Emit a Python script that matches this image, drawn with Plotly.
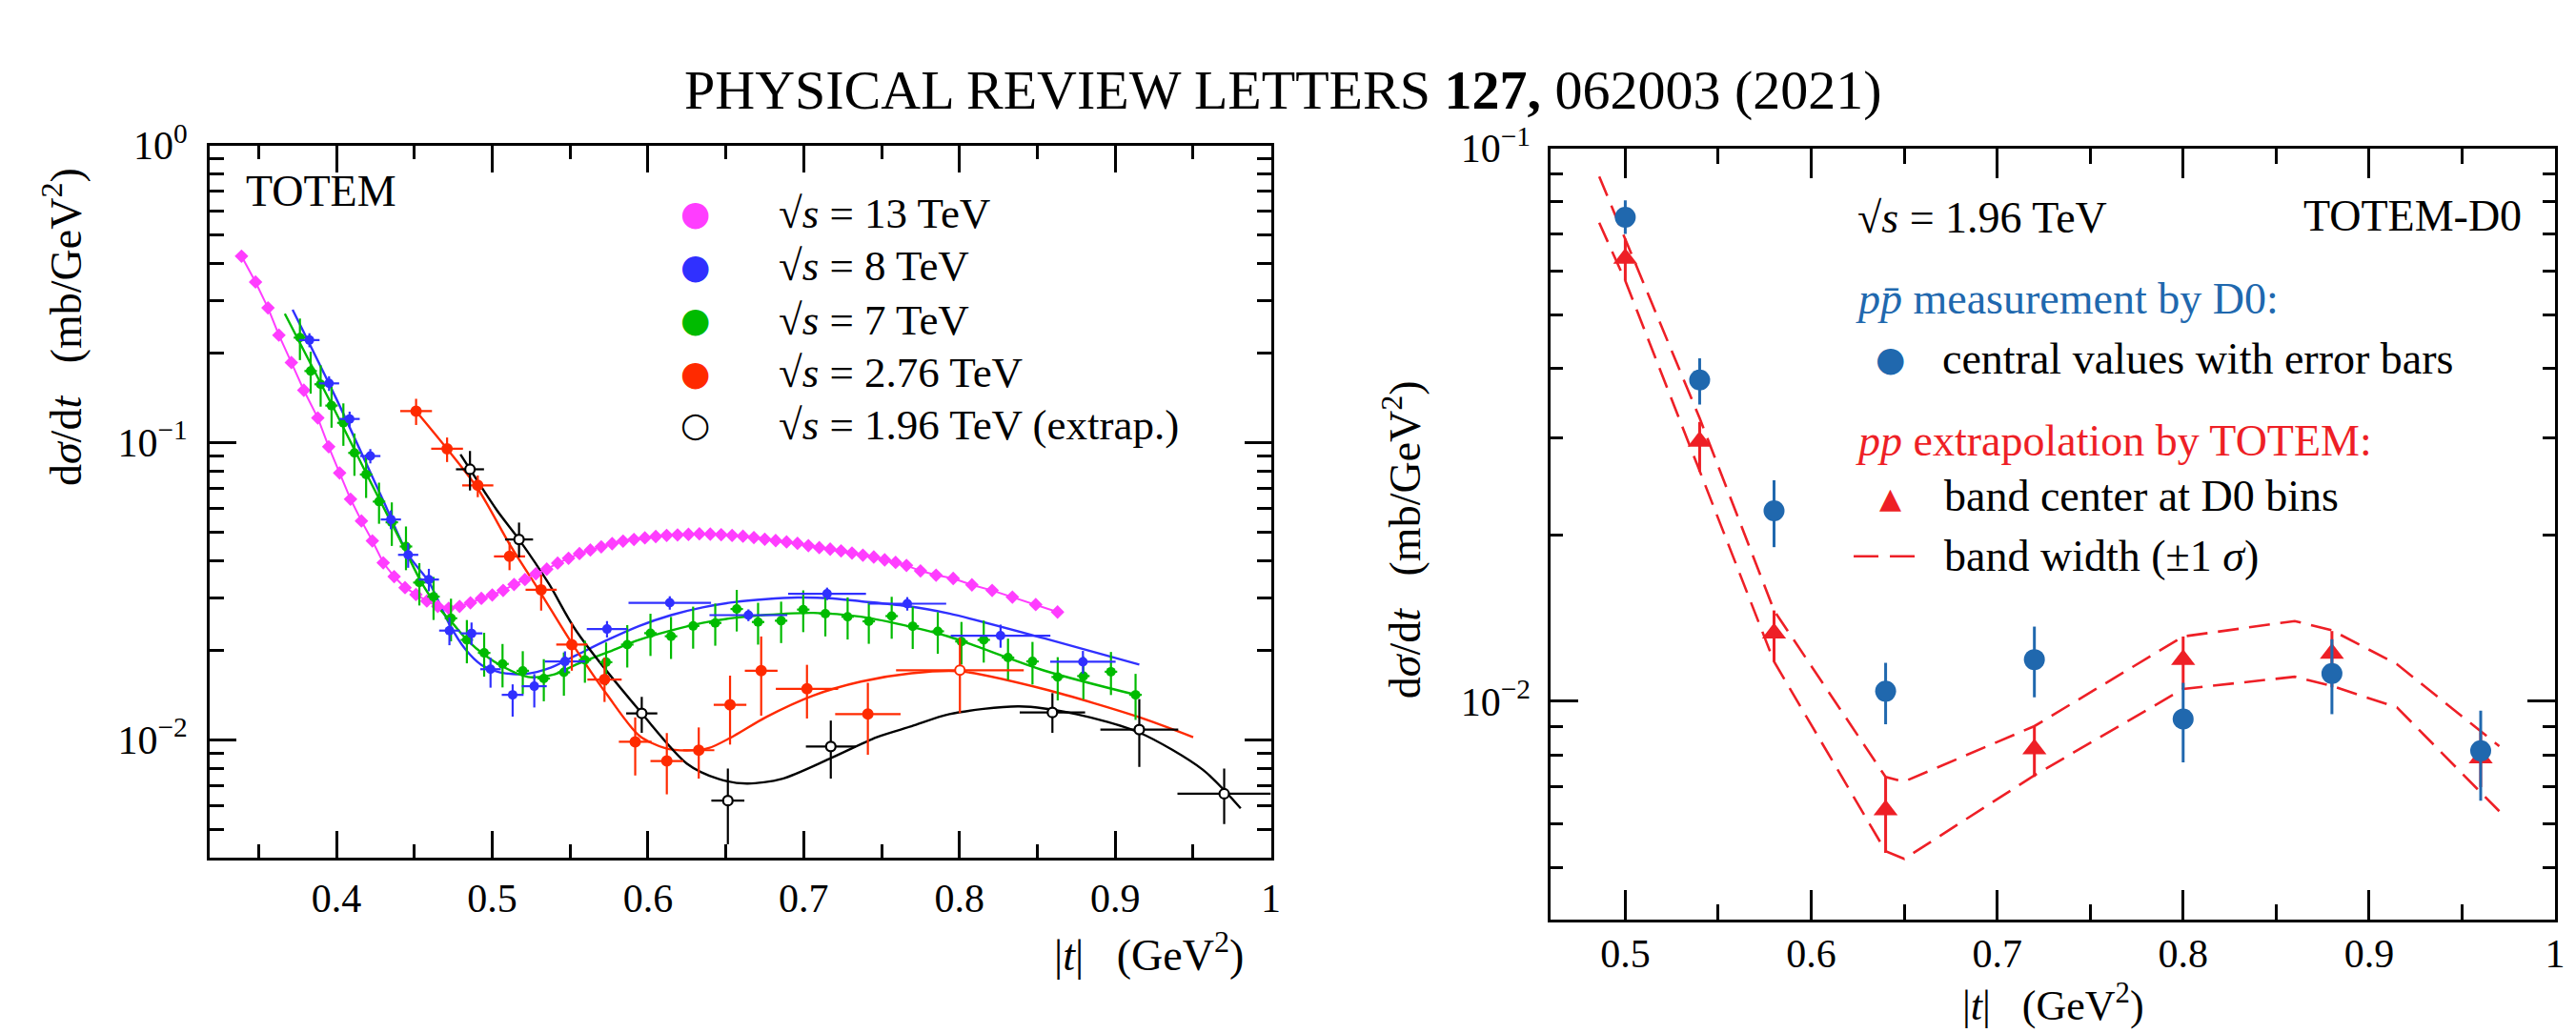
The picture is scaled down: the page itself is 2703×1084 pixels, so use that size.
import plotly.graph_objects as go

W, H = 2703, 1084
SERIF = "Liberation Serif"

# ---------------- LEFT PANEL DATA (TOTEM) ----------------
t_13 = [0.339, 0.348, 0.356, 0.363, 0.371, 0.379, 0.388, 0.395, 0.402, 0.409, 0.416, 0.423, 0.430, 0.437,
        0.444, 0.451, 0.458, 0.465, 0.472, 0.479, 0.486, 0.493, 0.500, 0.507, 0.514, 0.521, 0.528, 0.535,
        0.542, 0.549, 0.556, 0.563, 0.570, 0.577, 0.584, 0.591, 0.598, 0.605, 0.612, 0.619, 0.626, 0.633,
        0.640, 0.647, 0.654, 0.661, 0.668, 0.675, 0.682, 0.689, 0.696, 0.703, 0.710, 0.717, 0.724, 0.731,
        0.738, 0.745, 0.752, 0.759, 0.766, 0.775, 0.785, 0.796, 0.808, 0.821, 0.834, 0.849, 0.863]
v_13 = [0.424, 0.347, 0.284, 0.230, 0.186, 0.150, 0.121, 0.0968, 0.0790, 0.0645, 0.0545, 0.0467, 0.0394, 0.0354,
        0.0325, 0.0308, 0.0293, 0.0281, 0.0277, 0.0281, 0.0289, 0.0299, 0.0307, 0.0318, 0.0333, 0.0346, 0.0362, 0.0375,
        0.0393, 0.0408, 0.0423, 0.0435, 0.0446, 0.0457, 0.0466, 0.0472, 0.0478, 0.0483, 0.0487, 0.0489, 0.0491, 0.0493,
        0.0492, 0.0490, 0.0487, 0.0484, 0.0479, 0.0473, 0.0468, 0.0463, 0.0458, 0.0450, 0.0443, 0.0438, 0.0432, 0.0425,
        0.0418, 0.0412, 0.0403, 0.0395, 0.0386, 0.0370, 0.0358, 0.0349, 0.0332, 0.0318, 0.0302, 0.0285, 0.0269]

t_8 = [0.3826, 0.3952, 0.4084, 0.4217, 0.4349, 0.4460, 0.4593, 0.4725, 0.4867, 0.4989, 0.5131, 0.5270,
       0.5467, 0.5737, 0.6140, 0.6645, 0.7150, 0.7665, 0.8264, 0.8793]
v_8 = [0.2213, 0.1582, 0.1201, 0.0901, 0.0551, 0.0419, 0.0346, 0.0233, 0.0228, 0.01727, 0.01416, 0.01514,
       0.01834, 0.02358, 0.0289, 0.02626, 0.0310, 0.0287, 0.0224, 0.0183]
eu_8 = [0.012, 0.009, 0.007, 0.005, 0.004, 0.004, 0.003, 0.0025, 0.002, 0.0016, 0.0012, 0.0015,
        0.0015, 0.0015, 0.0015, 0.0012, 0.0015, 0.0015, 0.0020, 0.0016]
ed_8 = [0.012, 0.009, 0.007, 0.005, 0.004, 0.004, 0.003, 0.0025, 0.002, 0.0023, 0.0022, 0.0023,
        0.0015, 0.0015, 0.0015, 0.0012, 0.0015, 0.0015, 0.0020, 0.0016]
ex_8 = [0.0065, 0.0065, 0.0065, 0.0065, 0.0065, 0.0065, 0.0065, 0.0066, 0.007, 0.0066, 0.007, 0.008,
        0.013, 0.013, 0.0265, 0.025, 0.025, 0.025, 0.032, 0.021]

t_7 = [0.3765, 0.3834, 0.3898, 0.3968, 0.4044, 0.4115, 0.4190, 0.4273, 0.4355, 0.4446, 0.4532, 0.4623,
       0.4735, 0.4837, 0.4948, 0.5066, 0.5196, 0.5331, 0.5460, 0.5595, 0.5731, 0.5867, 0.6016, 0.6148,
       0.6290, 0.6432, 0.6570, 0.6707, 0.6855, 0.6997, 0.7139, 0.7282, 0.7418, 0.7565, 0.7700, 0.7861,
       0.8013, 0.8156, 0.8312, 0.8469, 0.8631, 0.8796, 0.8973, 0.9131]
v_7 = [0.2255, 0.1741, 0.1571, 0.1332, 0.1165, 0.0923, 0.0781, 0.0633, 0.0539, 0.0447, 0.0338, 0.0303,
       0.02563, 0.02168, 0.0196, 0.0180, 0.01706, 0.01607, 0.01686, 0.01855, 0.01824, 0.0209, 0.02284, 0.0223,
       0.02415, 0.02472, 0.02754, 0.0249, 0.02515, 0.02742, 0.02657, 0.02594, 0.02503, 0.02607, 0.0241, 0.02317,
       0.02141, 0.02168, 0.0189, 0.01834, 0.01626, 0.01638, 0.01694, 0.01416]
e_7 = [0.036, 0.028, 0.025, 0.021, 0.019, 0.015, 0.013, 0.010, 0.009, 0.0075, 0.0055, 0.005,
       0.0042, 0.0036, 0.0033, 0.0030, 0.0028, 0.0026, 0.0028, 0.0030, 0.0030, 0.0034, 0.0037, 0.0036,
       0.0039, 0.0040, 0.0044, 0.0040, 0.0040, 0.0044, 0.0043, 0.0042, 0.0040, 0.0042, 0.0039, 0.0037,
       0.0035, 0.0035, 0.0030, 0.0030, 0.0027, 0.0027, 0.0028, 0.0025]

t_276 = [0.4511, 0.4710, 0.4907, 0.5111, 0.5314, 0.5511, 0.5721, 0.5918, 0.6121, 0.6326, 0.6527, 0.6727,
         0.7021, 0.7412, 0.8003]
v_276 = [0.1276, 0.0953, 0.0718, 0.0414, 0.03195, 0.0209, 0.01595, 0.00984, 0.00848, 0.00922, 0.01311, 0.01707,
         0.01484, 0.0122, 0.01714]
hi_276 = [0.1404, 0.104, 0.0775, 0.0462, 0.0359, 0.02475, 0.0189, 0.01189, 0.01053, 0.0110, 0.01643, 0.02226,
          0.01787, 0.01555, 0.0220]
lo_276 = [0.1146, 0.086, 0.0655, 0.0372, 0.0272, 0.01707, 0.0134, 0.00758, 0.00655, 0.0074, 0.00963, 0.01205,
          0.01179, 0.0089, 0.0123]
ex_276 = [0.0102, 0.0102, 0.010, 0.010, 0.010, 0.010, 0.011, 0.0105, 0.0105, 0.010, 0.0105, 0.0105,
          0.020, 0.021, 0.041]
fill_276 = ["#ff2a00"] * 14 + ["white"]

t_196 = [0.4857, 0.5172, 0.5960, 0.6513, 0.7174, 0.8597, 0.9155, 0.9700]
v_196 = [0.0813, 0.0472, 0.01227, 0.00624, 0.00949, 0.01235, 0.01082, 0.00658]
hi_196 = [0.0937, 0.0538, 0.01394, 0.0080, 0.0116, 0.01435, 0.0137, 0.0080]
lo_196 = [0.0690, 0.0411, 0.01055, 0.00445, 0.0074, 0.01055, 0.0081, 0.0052]
ex_196 = [0.009, 0.009, 0.010, 0.0106, 0.016, 0.021, 0.025, 0.030]

# fitted curves
fit8_t = [0.3718, 0.400, 0.430, 0.446, 0.4593, 0.4724, 0.4826, 0.4928, 0.505, 0.5212, 0.5375, 0.5538,
          0.5741, 0.5944, 0.6148, 0.6351, 0.6554, 0.6757, 0.696, 0.7163, 0.7367, 0.7652, 0.7936, 0.8546, 0.9155]
fit8_v = [0.280, 0.140, 0.0638, 0.0419, 0.0340, 0.0245, 0.0202, 0.0179, 0.01685, 0.01665, 0.01748, 0.01923,
          0.02168, 0.02415, 0.02626, 0.02788, 0.02904, 0.02973, 0.0301, 0.02995, 0.02924, 0.02821, 0.02657,
          0.02194, 0.0179]
fit7_t = [0.3668, 0.400, 0.420, 0.440, 0.455, 0.465, 0.475, 0.4837, 0.495, 0.507, 0.523, 0.540, 0.5538,
          0.5741, 0.5944, 0.6148, 0.6351, 0.6554, 0.6757, 0.7062, 0.7367, 0.7692, 0.7936, 0.8546, 0.9155]
fit7_v = [0.2713, 0.125, 0.0770, 0.0480, 0.0335, 0.0280, 0.0245, 0.0217, 0.0193, 0.0176, 0.01626, 0.0166,
          0.0179, 0.0197, 0.02168, 0.0233, 0.02472, 0.0257, 0.0263, 0.02672, 0.02594, 0.02397, 0.0222,
          0.01708, 0.01407]
fit276_t = [0.4511, 0.4710, 0.4907, 0.5117, 0.5314, 0.5497, 0.5741, 0.5944, 0.6107, 0.6249, 0.6392, 0.6554,
            0.6757, 0.7062, 0.7367, 0.7692, 0.800, 0.8546, 0.9155, 0.9501]
fit276_v = [0.1276, 0.0953, 0.0700, 0.0450, 0.0310, 0.0217, 0.01409, 0.01032, 0.00938, 0.0092, 0.00938, 0.01032,
            0.01191, 0.01409, 0.01569, 0.01674, 0.0170, 0.01479, 0.01191, 0.0102]
fit196_t = [0.4796, 0.5029, 0.5172, 0.5365, 0.5538, 0.596, 0.6249, 0.6453, 0.6636, 0.6859, 0.7164, 0.7469,
            0.7692, 0.7936, 0.8383, 0.8749, 0.9155, 0.9562, 0.9806]
fit196_v = [0.0912, 0.0593, 0.0472, 0.0334, 0.0233, 0.01227, 0.00832, 0.00738, 0.00712, 0.00738, 0.00862, 0.0102,
            0.0111, 0.0122, 0.01295, 0.0122, 0.01057, 0.00793, 0.00588]

left_xticks = [0.4, 0.5, 0.6, 0.7, 0.8, 0.9, 1.0]
left_xlabels = ["0.4", "0.5", "0.6", "0.7", "0.8", "0.9", "1"]
left_xminor = [0.35, 0.45, 0.55, 0.65, 0.75, 0.85, 0.95]
left_yticks = [0.01, 0.1, 1.0]
left_ylabels = ["10<sup>\u22122</sup>", "10<sup>\u22121</sup>", "10<sup>0</sup>"]

# ---------------- RIGHT PANEL DATA (TOTEM-D0) ----------------
t_d0 = [0.50, 0.54, 0.58, 0.64, 0.72, 0.80, 0.88, 0.96]
v_d0 = [0.0750, 0.0381, 0.0221, 0.01043, 0.0119, 0.00929, 0.01123, 0.00814]
hi_d0 = [0.0805, 0.0417, 0.0251, 0.01174, 0.01365, 0.0108, 0.01295, 0.00962]
lo_d0 = [0.0700, 0.0344, 0.0190, 0.00909, 0.01017, 0.00776, 0.00948, 0.00661]

v_tri = [0.0632, 0.02950, 0.01328, 0.00636, 0.0082, 0.0119, 0.0122, 0.0079]
hi_tri = [0.0686, 0.0320, 0.0146, 0.0073, 0.0090, 0.0131, 0.0134, 0.0088]
lo_tri = [0.0576, 0.0260, 0.0118, 0.00532, 0.0073, 0.01053, 0.0106, 0.0070]

band_t = [0.486, 0.50, 0.54, 0.58, 0.64, 0.65, 0.72, 0.80, 0.86, 0.88, 0.915, 0.97]
band_up = [0.0889, 0.0684, 0.0325, 0.0146, 0.0073, 0.00716, 0.00902, 0.0131, 0.01397, 0.01344, 0.01167, 0.0083]
band_lo = [0.0733, 0.0576, 0.0261, 0.0118, 0.00536, 0.00519, 0.00735, 0.01053, 0.01108, 0.01066, 0.00975, 0.00633]

right_xticks = [0.5, 0.6, 0.7, 0.8, 0.9, 1.0]
right_xlabels = ["0.5", "0.6", "0.7", "0.8", "0.9", "1"]
right_xminor = [0.55, 0.65, 0.75, 0.85, 0.95]
right_yticks = [0.01, 0.1]
right_ylabels = ["10<sup>\u22122</sup>", "10<sup>\u22121</sup>"]
y_minor = [m * d for d in (0.001, 0.01, 0.1) for m in range(2, 10)]

# ---------------- colours ----------------
MAG, BLU, GRN, RED, BLK = "#ff3dff", "#3030ff", "#00bb00", "#ff2a00", "#000000"
D0B, TRED = "#2068ae", "#ee1f26"


def ups(hi, v):
    return [a - b for a, b in zip(hi, v)]


def dns(v, lo):
    return [a - b for a, b in zip(v, lo)]


fig = go.Figure()

# fits (left)
for ft, fv, c in [(fit8_t, fit8_v, BLU), (fit7_t, fit7_v, GRN), (fit276_t, fit276_v, RED), (fit196_t, fit196_v, BLK)]:
    fig.add_trace(go.Scatter(x=ft, y=fv, mode="lines", line=dict(color=c, width=2.4, shape="spline", smoothing=0.8),
                             xaxis="x", yaxis="y", showlegend=False, hoverinfo="skip"))

fig.add_trace(go.Scatter(x=t_13, y=v_13, mode="lines+markers", xaxis="x", yaxis="y", showlegend=False,
                         line=dict(color=MAG, width=2),
                         marker=dict(symbol="diamond", size=11, color=MAG),
                         error_y=dict(type="percent", value=4, thickness=2, width=0, color=MAG),
                         error_x=dict(type="constant", value=0.0035, thickness=2, width=0, color=MAG)))
fig.add_trace(go.Scatter(x=t_7, y=v_7, mode="markers", xaxis="x", yaxis="y", showlegend=False,
                         marker=dict(symbol="circle", size=10, color=GRN),
                         error_y=dict(type="data", array=e_7, thickness=2.2, width=0, color=GRN),
                         error_x=dict(type="constant", value=0.004, thickness=2.2, width=0, color=GRN)))
fig.add_trace(go.Scatter(x=t_8, y=v_8, mode="markers", xaxis="x", yaxis="y", showlegend=False,
                         marker=dict(symbol="circle", size=10, color=BLU),
                         error_y=dict(type="data", array=eu_8, arrayminus=ed_8, thickness=2.2, width=0, color=BLU),
                         error_x=dict(type="data", array=ex_8, thickness=2.2, width=0, color=BLU)))
fig.add_trace(go.Scatter(x=t_276, y=v_276, mode="markers", xaxis="x", yaxis="y", showlegend=False,
                         marker=dict(symbol="circle", size=10, color=fill_276, line=dict(color=RED, width=2)),
                         error_y=dict(type="data", array=ups(hi_276, v_276), arrayminus=dns(v_276, lo_276),
                                      thickness=2.2, width=0, color=RED),
                         error_x=dict(type="data", array=ex_276, thickness=2.2, width=0, color=RED)))
fig.add_trace(go.Scatter(x=t_196, y=v_196, mode="markers", xaxis="x", yaxis="y", showlegend=False,
                         marker=dict(symbol="circle", size=10, color="white", line=dict(color=BLK, width=2.2)),
                         error_y=dict(type="data", array=ups(hi_196, v_196), arrayminus=dns(v_196, lo_196),
                                      thickness=2.2, width=0, color=BLK),
                         error_x=dict(type="data", array=ex_196, thickness=2.2, width=0, color=BLK)))

# right panel
for bv in (band_up, band_lo):
    fig.add_trace(go.Scatter(x=band_t, y=bv, mode="lines", xaxis="x2", yaxis="y2", showlegend=False,
                             line=dict(color=TRED, width=2.6, dash="22px,11px"), hoverinfo="skip"))
fig.add_trace(go.Scatter(x=t_d0, y=v_tri, mode="markers", xaxis="x2", yaxis="y2", showlegend=False,
                         marker=dict(symbol="triangle-up", size=22, color=TRED),
                         error_y=dict(type="data", array=ups(hi_tri, v_tri), arrayminus=dns(v_tri, lo_tri),
                                      thickness=3, width=0, color=TRED)))
fig.add_trace(go.Scatter(x=t_d0, y=v_d0, mode="markers", xaxis="x2", yaxis="y2", showlegend=False,
                         marker=dict(symbol="circle", size=22, color=D0B),
                         error_y=dict(type="data", array=ups(hi_d0, v_d0), arrayminus=dns(v_d0, lo_d0),
                                      thickness=3, width=0, color=D0B)))


def px(x):
    return x / W


def py(y):
    return 1 - y / H


axis_common = dict(showline=True, linewidth=3, linecolor="black", mirror="allticks", ticks="inside",
                   tickwidth=2.5, tickcolor="black", showgrid=False, zeroline=False,
                   tickfont=dict(family=SERIF, size=42, color="black"))

fig.update_layout(
    width=W, height=H, margin=dict(l=0, r=0, t=0, b=0),
    paper_bgcolor="white", plot_bgcolor="white", showlegend=False,
    xaxis=dict(domain=[px(221), px(1339)], range=[0.3186, 1.0], anchor="y",
               tickvals=left_xticks, ticktext=left_xlabels, ticklen=28, ticklabelstandoff=4,
               minor=dict(tickvals=left_xminor, ticks="inside", ticklen=14, tickwidth=2.5, tickcolor="black"),
               **axis_common),
    yaxis=dict(domain=[py(895), py(127)], type="log", range=[-2.397, 0.0], anchor="x",
               tickvals=left_yticks, ticktext=left_ylabels, ticklen=28, ticklabelstandoff=12,
               minor=dict(tickvals=y_minor, ticks="inside", ticklen=15, tickwidth=2.5, tickcolor="black"),
               **axis_common),
    xaxis2=dict(domain=[px(1634), px(2692)], range=[0.46, 1.0], anchor="y2",
                tickvals=right_xticks, ticktext=right_xlabels, ticklen=31, ticklabelstandoff=-4,
                minor=dict(tickvals=right_xminor, ticks="inside", ticklen=16, tickwidth=2.5, tickcolor="black"),
                **axis_common),
    yaxis2=dict(domain=[py(962), py(130)], type="log", range=[-2.395, -1.0], anchor="x2",
                tickvals=right_yticks, ticktext=right_ylabels, ticklen=29, ticklabelstandoff=10,
                minor=dict(tickvals=y_minor, ticks="inside", ticklen=13, tickwidth=2.5, tickcolor="black"),
                **axis_common),
)

ann = []


def text(x, y, s, size=46, color="black", xanchor="left", angle=0):
    ann.append(dict(x=px(x), y=py(y), xref="paper", yref="paper", text=s, showarrow=False,
                    xanchor=xanchor, yanchor="middle", textangle=angle,
                    font=dict(family=SERIF, size=size, color=color)))


SQ = "\u221a<i>s</i>"
NB = "\u00a0"

text(1352, 67, "PHYSICAL REVIEW LETTERS <b>127,</b> 062003 (2021)", size=58, xanchor="center")

# left panel texts
text(257, 176, "TOTEM", size=46)
leg_rows = [(200, MAG, "\u25cf", f"{SQ} = 13 TeV"),
            (257, BLU, "\u25cf", f"{SQ} = 8 TeV"),
            (315, GRN, "\u25cf", f"{SQ} = 7 TeV"),
            (372, RED, "\u25cf", f"{SQ} = 2.76 TeV"),
            (428, BLK, "\u25cb", f"{SQ} = 1.96 TeV (extrap.)")]
for yy, c, g, s in leg_rows:
    ann.append(dict(x=px(732), y=py(yy), xref="paper", yref="paper", text=g, showarrow=False,
                    xanchor="center", yanchor="middle", font=dict(family="DejaVu Sans", size=36, color=c)))
    text(818, yy, s, size=45)
text(1312, 997, f"|<i>t</i>|{NB*3}(GeV<sup>2</sup>)", size=46, xanchor="right")
text(66, 323, f"d<i>\u03c3</i>/d<i>t</i>{NB*3}(mb/GeV<sup>2</sup>)", size=46, xanchor="center", angle=-90)

# right panel texts
text(1955, 205, f"{SQ} = 1.96 TeV", size=46)
text(2659, 203, "TOTEM-D0", size=46, xanchor="right")
text(1953, 292, "<i>p\u0070\u0304</i> measurement by D0:", size=46, color=D0B)
ann.append(dict(x=px(1992), y=py(357), xref="paper", yref="paper", text="\u25cf", showarrow=False,
                xanchor="center", yanchor="middle", font=dict(family="DejaVu Sans", size=36, color=D0B)))
text(2044, 357, "central values with error bars", size=46)
text(1953, 445, "<i>pp</i> extrapolation by TOTEM:", size=46, color=TRED)
ann.append(dict(x=px(1992), y=py(507), xref="paper", yref="paper", text="\u25b2", showarrow=False,
                xanchor="center", yanchor="middle", font=dict(family="DejaVu Sans", size=30, color=TRED)))
text(2046, 505, "band center at D0 bins", size=46)
text(2046, 570, "band width (\u00b11 <i>\u03c3</i>)", size=46)
text(2163, 1052, f"|<i>t</i>|{NB*3}(GeV<sup>2</sup>)", size=44, xanchor="center")
text(1477, 552, f"d<i>\u03c3</i>/d<i>t</i>{NB*3}(mb/GeV<sup>2</sup>)", size=46, xanchor="center", angle=-90)

fig.update_layout(annotations=ann)
fig.add_shape(type="line", xref="paper", yref="paper", x0=px(1953), x1=px(2028), y0=py(570), y1=py(570),
              line=dict(color=TRED, width=2.6, dash="26px,12px"))

fig.write_html("out.html", config={"displayModeBar": False},
               post_script="document.body.style.margin='0';")
